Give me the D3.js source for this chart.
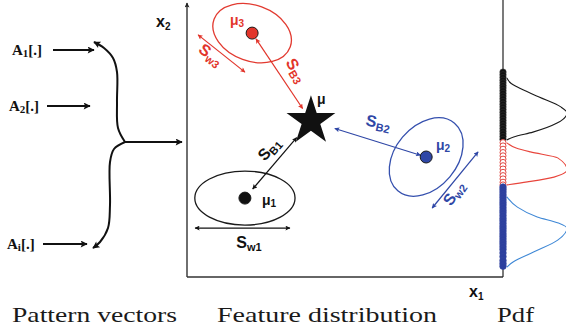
<!DOCTYPE html>
<html>
<head>
<meta charset="utf-8">
<script src="https://cdn.jsdelivr.net/npm/d3@7"></script>
<style>
  html, body { margin: 0; padding: 0; background: #fff; }
  svg { display: block; }
  .sym { font-family: Arial, 'Liberation Sans', sans-serif; font-weight: bold; }
  .cap { font-family: 'Liberation Serif', 'Times New Roman', serif; fill: #1a1a1a; }
  .pat { font-family: 'Liberation Serif', 'Times New Roman', serif; font-weight: bold; fill: #111; }
</style>
</head>
<body>
<svg id="fig" width="566" height="329"></svg>
<script>
'use strict';

// pattern vectors feeding the feature space
var PATTERNS = ['1', '2', 'i'];

// classes in feature space (x1, x2), order: class 1, 2, 3
var CLASS_IDS = ['1', '2', '3'];
var CLASS_MEAN_X = [1.93, 7.97, 2.17];
var CLASS_MEAN_Y = [2.63, 4.00, 8.13];
var CLASS_AXIS_A = [1.67, 1.47, 1.35];
var CLASS_AXIS_B = [0.90, 1.03, 0.93];
var CLASS_ANGLE = [0, 50, -20];
var GLOBAL_MEAN = [4.13, 5.20];

// within-class spread arrows (start / end, feature units)
var WITHIN_X0 = [0.27, 8.17, 0.37];
var WITHIN_Y0 = [1.63, 2.30, 8.07];
var WITHIN_X1 = [3.43, 9.70, 1.93];
var WITHIN_Y1 = [1.63, 4.17, 6.83];

// samples projected on the pdf axis (x2 values)
var PROJ_1 = [6.83, 6.74, 6.65, 6.56, 6.47, 6.38, 6.30, 6.21, 6.12, 6.03, 5.94, 5.85, 5.76,
              5.67, 5.58, 5.49, 5.40, 5.31, 5.22, 5.13, 5.04, 4.95, 4.86, 4.77, 4.68, 4.59];
var PROJ_3 = [4.48, 4.37, 4.26, 4.15, 4.04, 3.93, 3.82, 3.71, 3.60, 3.49, 3.38, 3.27, 3.16, 3.07];
var PROJ_2 = [3.00, 2.92, 2.83, 2.74, 2.66, 2.57, 2.48, 2.40, 2.31, 2.22, 2.14, 2.05, 1.96, 1.88,
              1.79, 1.70, 1.62, 1.53, 1.44, 1.36, 1.27, 1.18, 1.10, 1.01, 0.92, 0.80, 0.68,
              0.55, 0.45, 0.36];

// pdf curves: x2 position and relative density
var PDF1_Y = [6.63, 6.45, 6.33, 6.00, 5.67, 5.47, 5.13, 4.83, 4.67, 4.57];
var PDF1_D = [0.03, 0.10, 0.20, 0.55, 0.90, 1.00, 0.84, 0.45, 0.14, 0.03];
var PDF3_Y = [4.47, 4.30, 4.17, 3.97, 3.57, 3.33, 3.17, 3.07];
var PDF3_D = [0.03, 0.18, 0.41, 0.85, 1.00, 0.79, 0.36, 0.03];
var PDF2_Y = [2.67, 2.33, 2.00, 1.80, 1.63, 1.23, 0.83, 0.50, 0.33];
var PDF2_D = [0.03, 0.20, 0.52, 0.86, 1.00, 0.85, 0.46, 0.13, 0.03];

var CAPTIONS = ['Pattern vectors', 'Feature distribution', 'Pdf'];

var COLORS = ['#111111', '#2f47a6', '#e2352b'];
var ELLIPSE_COLORS = ['#1a1a1a', '#3550ae', '#e23a30'];
var PDF_COLORS = ['#1a1a1a', '#3f88d6', '#e8453c'];

var svg = d3.select('#fig');
var defs = svg.append('defs');

var x = d3.scaleLinear().domain([0, 10.53]).range([187, 503]);
var y = d3.scaleLinear().domain([0, 9.2]).range([277, 1]);
var pdfX = d3.scaleLinear().domain([0, 1]).range([505, 567]);

function addArrowDef(id, color, len, wid) {
  defs.append('marker')
    .attr('id', id)
    .attr('markerUnits', 'userSpaceOnUse')
    .attr('viewBox', '0 0 10 10')
    .attr('refX', 9)
    .attr('refY', 5)
    .attr('markerWidth', len)
    .attr('markerHeight', wid)
    .attr('orient', 'auto-start-reverse')
    .append('path')
    .attr('d', 'M0,0 L10,5 L0,10 L2,5 Z')
    .attr('fill', color);
}
addArrowDef('headBig', '#111', 9, 7);
addArrowDef('headAxis', '#222', 6, 5);
COLORS.forEach(function(c, i) { addArrowDef('head' + i, c, 6, 5); });

// ---- left: pattern vectors and brace ----
var patY = [50, 106, 244];
var patX = [12, 9, 7];
var patArrow = [[53, 94], [47, 90], [43, 87]];
PATTERNS.forEach(function(p, i) {
  var t = svg.append('text').attr('class', 'pat')
    .attr('x', patX[i]).attr('y', patY[i] + 5)
    .style('font-size', '15px');
  t.append('tspan').text('A');
  t.append('tspan').text(p).style('font-size', '11px').attr('dy', 2);
  t.append('tspan').text('[.]').attr('dy', -2);
  svg.append('line')
    .attr('x1', patArrow[i][0]).attr('x2', patArrow[i][1])
    .attr('y1', patY[i]).attr('y2', patY[i])
    .attr('stroke', '#111').attr('stroke-width', 2)
    .attr('marker-end', 'url(#headBig)');
});

var braceLine = d3.line().curve(d3.curveCatmullRom.alpha(0.5));
var braceTop = [[94, 42], [104, 48], [113, 58], [117, 72], [117, 102], [118, 128], [125, 142]];
var braceBottom = [[125, 142], [114, 149], [110, 162], [110, 205], [108, 228], [100, 242], [93, 248]];
svg.append('path').attr('d', braceLine(braceTop))
  .attr('fill', 'none').attr('stroke', '#111').attr('stroke-width', 2)
  .attr('marker-start', 'url(#headBig)');
svg.append('path').attr('d', braceLine(braceBottom))
  .attr('fill', 'none').attr('stroke', '#111').attr('stroke-width', 2)
  .attr('marker-end', 'url(#headBig)');
svg.append('line')
  .attr('x1', 125).attr('x2', 182).attr('y1', 142).attr('y2', 142)
  .attr('stroke', '#111').attr('stroke-width', 2)
  .attr('marker-end', 'url(#headBig)');

// ---- feature space axes ----
svg.append('line')
  .attr('x1', x(0)).attr('x2', x(0)).attr('y1', y(0)).attr('y2', 3)
  .attr('stroke', '#222').attr('stroke-width', 1.3)
  .attr('marker-end', 'url(#headAxis)');
svg.append('line')
  .attr('x1', x(0)).attr('x2', x(10.53)).attr('y1', y(0)).attr('y2', y(0))
  .attr('stroke', '#333').attr('stroke-width', 1.3);
svg.append('line')
  .attr('x1', x(10.53)).attr('x2', x(10.53)).attr('y1', 0).attr('y2', y(0))
  .attr('stroke', '#222').attr('stroke-width', 1.2);

function axisLabel(px, py, sub) {
  var t = svg.append('text').attr('class', 'sym')
    .attr('x', px).attr('y', py).style('font-size', '16px').attr('fill', '#111');
  t.append('tspan').text('x');
  t.append('tspan').text(sub).style('font-size', '10px').attr('dy', 3);
}
axisLabel(156, 27, '2');
axisLabel(469, 297, '1');

// ---- classes ----
CLASS_IDS.forEach(function(id, i) {
  var cx = x(CLASS_MEAN_X[i]), cy = y(CLASS_MEAN_Y[i]);
  svg.append('ellipse')
    .attr('cx', cx).attr('cy', cy)
    .attr('rx', x(CLASS_AXIS_A[i]) - x(0))
    .attr('ry', y(0) - y(CLASS_AXIS_B[i]))
    .attr('transform', 'rotate(' + (-CLASS_ANGLE[i]) + ',' + cx + ',' + cy + ')')
    .attr('fill', 'none')
    .attr('stroke', ELLIPSE_COLORS[i])
    .attr('stroke-width', 1.3);
});

// within-class arrows
CLASS_IDS.forEach(function(id, i) {
  svg.append('line')
    .attr('x1', x(WITHIN_X0[i])).attr('y1', y(WITHIN_Y0[i]))
    .attr('x2', x(WITHIN_X1[i])).attr('y2', y(WITHIN_Y1[i]))
    .attr('stroke', COLORS[i]).attr('stroke-width', 1.2)
    .attr('marker-start', 'url(#head' + i + ')')
    .attr('marker-end', 'url(#head' + i + ')');
});

// between-class arrows, trimmed off the dot and the star
var betweenTrim = [[12, 22], [6, 25], [7, 15]];
var gx = x(GLOBAL_MEAN[0]), gy = y(GLOBAL_MEAN[1]);
CLASS_IDS.forEach(function(id, i) {
  var cx = x(CLASS_MEAN_X[i]), cy = y(CLASS_MEAN_Y[i]);
  var dx = gx - cx, dy = gy - cy, len = Math.sqrt(dx * dx + dy * dy);
  var ux = dx / len, uy = dy / len;
  svg.append('line')
    .attr('x1', cx + ux * betweenTrim[i][0]).attr('y1', cy + uy * betweenTrim[i][0])
    .attr('x2', gx - ux * betweenTrim[i][1]).attr('y2', gy - uy * betweenTrim[i][1])
    .attr('stroke', COLORS[i]).attr('stroke-width', 1.2)
    .attr('marker-start', 'url(#head' + i + ')')
    .attr('marker-end', 'url(#head' + i + ')');
});

// class means
svg.selectAll('circle.mean')
  .data(CLASS_IDS)
  .enter()
  .append('circle')
  .classed('mean', true)
  .attr('cx', function(d, i) { return x(CLASS_MEAN_X[i]); })
  .attr('cy', function(d, i) { return y(CLASS_MEAN_Y[i]); })
  .attr('r', 6)
  .attr('fill', function(d, i) { return i === 0 ? '#111' : COLORS[i]; })
  .attr('stroke', '#1a1a1a')
  .attr('stroke-width', 1);

// global mean star
svg.append('path')
  .attr('d', d3.symbol().type(d3.symbolStar).size(740)())
  .attr('transform', 'translate(' + gx + ',' + gy + ')')
  .attr('fill', '#111');

// ---- labels ----
function muLabel(px, py, sub, color) {
  var t = svg.append('text').attr('class', 'sym')
    .attr('x', px).attr('y', py).attr('fill', color).style('font-size', '14px');
  t.append('tspan').text('\u03bc');
  if (sub) t.append('tspan').text(sub).style('font-size', '10px').attr('dy', 2);
}
muLabel(262, 205, '1', COLORS[0]);
muLabel(436, 150, '2', COLORS[1]);
muLabel(230, 25, '3', COLORS[2]);
muLabel(317, 104, '', '#111');

function sLabel(cx, cy, rot, sub, color) {
  var t = svg.append('text').attr('class', 'sym')
    .attr('transform', 'translate(' + cx + ',' + cy + ') rotate(' + rot + ')')
    .attr('text-anchor', 'middle')
    .attr('y', 4)
    .attr('fill', color)
    .style('font-size', '16px');
  t.append('tspan').text('S');
  t.append('tspan').text(sub).style('font-size', '11px').attr('dy', 3);
}
sLabel(270, 150, -48, 'B1', COLORS[0]);
sLabel(378, 124, 12, 'B2', COLORS[1]);
sLabel(295, 71, 60, 'B3', COLORS[2]);
sLabel(249, 244, 0, 'w1', COLORS[0]);
sLabel(455, 194, -55, 'w2', COLORS[1]);
sLabel(210, 56, 38, 'w3', COLORS[2]);

// ---- pdf column ----
var pdfLine = d3.line()
  .x(function(d) { return pdfX(d[1]); })
  .y(function(d) { return y(d[0]); })
  .curve(d3.curveMonotoneY);

var pdfSets = [
  { ys: PDF1_Y, ds: PDF1_D, color: PDF_COLORS[0] },
  { ys: PDF3_Y, ds: PDF3_D, color: PDF_COLORS[2] },
  { ys: PDF2_Y, ds: PDF2_D, color: PDF_COLORS[1] }
];
pdfSets.forEach(function(s) {
  var pts = s.ys.map(function(v, k) { return [v, s.ds[k]]; });
  pts.sort(function(a, b) { return b[0] - a[0]; });
  svg.append('path')
    .attr('d', pdfLine(pts))
    .attr('fill', 'none')
    .attr('stroke', s.color)
    .attr('stroke-width', 1.1);
});

var px0 = x(10.53);
svg.selectAll('circle.p1').data(PROJ_1).enter().append('circle')
  .classed('p1', true)
  .attr('cx', px0).attr('cy', function(d) { return y(d); }).attr('r', 3.2)
  .attr('fill', '#111').attr('stroke', '#333').attr('stroke-width', 0.6);
svg.selectAll('circle.p3').data(PROJ_3).enter().append('circle')
  .classed('p3', true)
  .attr('cx', px0).attr('cy', function(d) { return y(d); }).attr('r', 3)
  .attr('fill', '#fff').attr('stroke', '#e04a44').attr('stroke-width', 1);
svg.selectAll('circle.p2').data(PROJ_2).enter().append('circle')
  .classed('p2', true)
  .attr('cx', px0).attr('cy', function(d) { return y(d); }).attr('r', 3.3)
  .attr('fill', '#2c3f9e').attr('stroke', '#34469f').attr('stroke-width', 0.6);

// ---- captions ----
var capX = [12, 217, 497];
var capW = [165, 220, 37];
svg.selectAll('text.cap')
  .data(CAPTIONS)
  .enter()
  .append('text')
  .attr('class', 'cap')
  .attr('x', function(d, i) { return capX[i]; })
  .attr('y', 322)
  .attr('textLength', function(d, i) { return capW[i]; })
  .attr('lengthAdjust', 'spacingAndGlyphs')
  .style('font-size', '22px')
  .text(function(d) { return d; });
</script>
</body>
</html>
